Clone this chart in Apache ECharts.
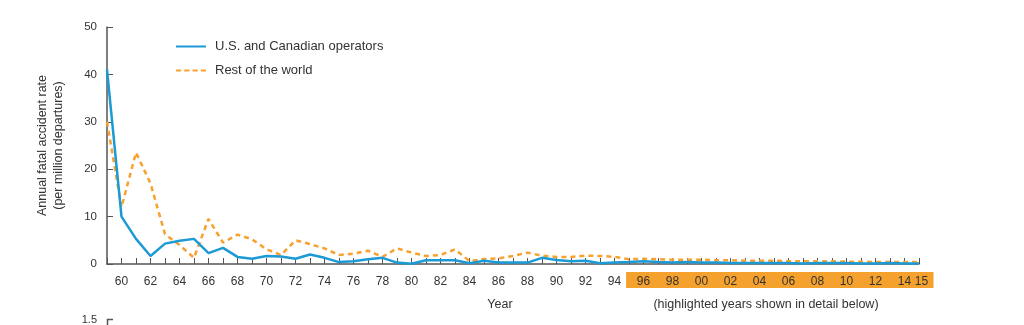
<!DOCTYPE html>
<html>
<head>
<meta charset="utf-8">
<script src="https://cdn.jsdelivr.net/npm/echarts@6/dist/echarts.min.js"></script>
<style>
html,body{margin:0;padding:0;background:#fff;}
#chart{width:1024px;height:325px;}
</style>
</head>
<body>
<div id="chart"></div>
<script>
const years = [];
for (let y = 1959; y <= 2015; y++) years.push(String(y));

const usCanada = [41, 10, 5.3, 1.7, 4.3, 4.9, 5.3, 2.3, 3.4, 1.5,
  1.1, 1.7, 1.6, 1.1, 2.0, 1.3, 0.4, 0.6, 1.0, 1.3,
  0.3, 0.05, 0.8, 0.8, 0.8, 0.15, 0.7, 0.3, 0.3, 0.3,
  1.3, 0.85, 0.6, 0.7, 0.15, 0.3, 0.4, 0.6, 0.4, 0.3,
  0.4, 0.3, 0.3, 0.2, 0.2, 0.2, 0.2, 0.2, 0.1, 0.2,
  0.2, 0.2, 0.1, 0.1, 0.2, 0.1, 0.1];

const restOfWorld = [30, 12, 23.5, 17, 6.3, 4.0, 1.3, 9.5, 4.5, 6.2,
  5.2, 3.1, 1.9, 5.0, 4.2, 3.3, 1.9, 2.2, 2.8, 1.5,
  3.3, 2.4, 1.7, 1.9, 3.1, 0.6, 1.05, 1.2, 1.7, 2.4,
  1.75, 1.5, 1.5, 1.75, 1.7, 1.5, 1.0, 1.1, 1.0, 0.9,
  0.9, 0.9, 0.8, 0.8, 0.7, 0.7, 0.7, 0.6, 0.6, 0.6,
  0.6, 0.5, 0.5, 0.4, 0.4, 0.4, 0.4];

const yTicks = [0, 10, 20, 30, 40, 50];
const highlightFrom = '1996';
const highlightTo = '2015';

const FONT = "'Liberation Sans', Arial, sans-serif";
const TXT = '#333';
const AX = '#555';
const BLUE = '#1b9ad6';
const ORANGE = '#f7a12f';

const chart = echarts.init(document.getElementById('chart'), null, {renderer: 'canvas'});

const option = {
  animation: false,
  backgroundColor: '#fff',
  textStyle: {fontFamily: FONT},
  grid: {left: 107, right: 105, top: 27, bottom: 61, containLabel: false},
  legend: {
    orient: 'vertical',
    left: 176,
    top: 40,
    padding: 0,
    itemWidth: 30,
    itemHeight: 10,
    itemGap: 11,
    textStyle: {fontFamily: FONT, fontSize: 13, color: TXT, padding: [0, 0, 0, 4]},
    data: [
      {name: 'U.S. and Canadian operators', icon: 'path://M0,4 L30,4 L30,6 L0,6 Z', itemStyle: {color: BLUE}},
      {name: 'Rest of the world', icon: 'path://M0,4 L5,4 L5,6 L0,6 Z M8,4 L13,4 L13,6 L8,6 Z M16,4 L21,4 L21,6 L16,6 Z M24,4 L29,4 L29,6 L24,6 Z', itemStyle: {color: ORANGE}}
    ]
  },
  xAxis: {
    type: 'category',
    data: years,
    boundaryGap: false,
    axisLine: {lineStyle: {color: AX, width: 1.5}},
    axisTick: {show: true, inside: true, length: 6, interval: 0, lineStyle: {color: AX, width: 1}},
    axisLabel: {
      interval: 0,
      margin: 12,
      fontFamily: FONT,
      fontSize: 12,
      color: TXT,
      rich: {last: {fontFamily: FONT, fontSize: 12, color: TXT, padding: [0, 0, 0, 5]}},
      formatter: function (v) {
        const y = +v;
        if (y === 1959) return '';
        if (y === 2015) return '{last|' + v.slice(2) + '}';
        if (y % 2 === 0) return v.slice(2);
        return '';
      }
    },
    splitLine: {show: false}
  },
  yAxis: {
    type: 'value',
    min: 0, max: 50, interval: 10,
    name: 'Annual fatal accident rate\n(per million departures)',
    nameLocation: 'middle',
    nameRotate: 90,
    nameGap: 40,
    nameTextStyle: {fontFamily: FONT, fontSize: 12.5, color: TXT, lineHeight: 16},
    axisLine: {show: true, lineStyle: {color: AX, width: 1.5}},
    axisTick: {show: true, inside: true, length: 6, lineStyle: {color: AX}},
    axisLabel: {
      margin: 10, fontFamily: FONT, fontSize: 11.5, color: TXT,
      formatter: function (v) { return yTicks.indexOf(v) >= 0 ? String(v) : ''; }
    },
    splitLine: {show: false}
  },
  series: [
    {
      name: 'U.S. and Canadian operators',
      type: 'line',
      data: usCanada,
      symbol: 'none',
      lineStyle: {color: BLUE, width: 2.5},
      itemStyle: {color: BLUE},
      z: 3
    },
    {
      name: 'Rest of the world',
      type: 'line',
      data: restOfWorld,
      symbol: 'none',
      lineStyle: {color: ORANGE, width: 2.5, type: [5, 4]},
      itemStyle: {color: ORANGE},
      z: 2
    }
  ]
};

chart.setOption(option);

// Decorations computed from axis scales
const xa = chart.convertToPixel({xAxisIndex: 0}, highlightFrom);
const xb = chart.convertToPixel({xAxisIndex: 0}, highlightTo);
const step = chart.convertToPixel({xAxisIndex: 0}, '2001') - chart.convertToPixel({xAxisIndex: 0}, '2000');
const y0 = chart.convertToPixel({yAxisIndex: 0}, 0);

chart.setOption({
  graphic: [
    {
      type: 'rect', z: -1, silent: true,
      shape: {x: xa - 1.2 * step, y: y0 + 8, width: (xb - xa) + 2.2 * step, height: 16},
      style: {fill: '#f5a12d'}
    },
    {
      type: 'text', silent: true,
      x: 500, y: 305,
      style: {text: 'Year', fill: TXT, font: '12.5px ' + FONT, align: 'center', verticalAlign: 'middle'}
    },
    {
      type: 'text', silent: true,
      x: 766, y: 305,
      style: {text: '(highlighted years shown in detail below)', fill: TXT, font: '12.5px ' + FONT, align: 'center', verticalAlign: 'middle'}
    },
    {
      type: 'text', silent: true,
      x: 97, y: 320,
      style: {text: '1.5', fill: TXT, font: '11px ' + FONT, align: 'right', verticalAlign: 'middle'}
    },
    {
      type: 'polyline', silent: true,
      shape: {points: [[107.5, 330], [107.5, 319.5], [113, 319.5]]},
      style: {stroke: AX, lineWidth: 1.5, fill: null}
    }
  ]
});
</script>
</body>
</html>
